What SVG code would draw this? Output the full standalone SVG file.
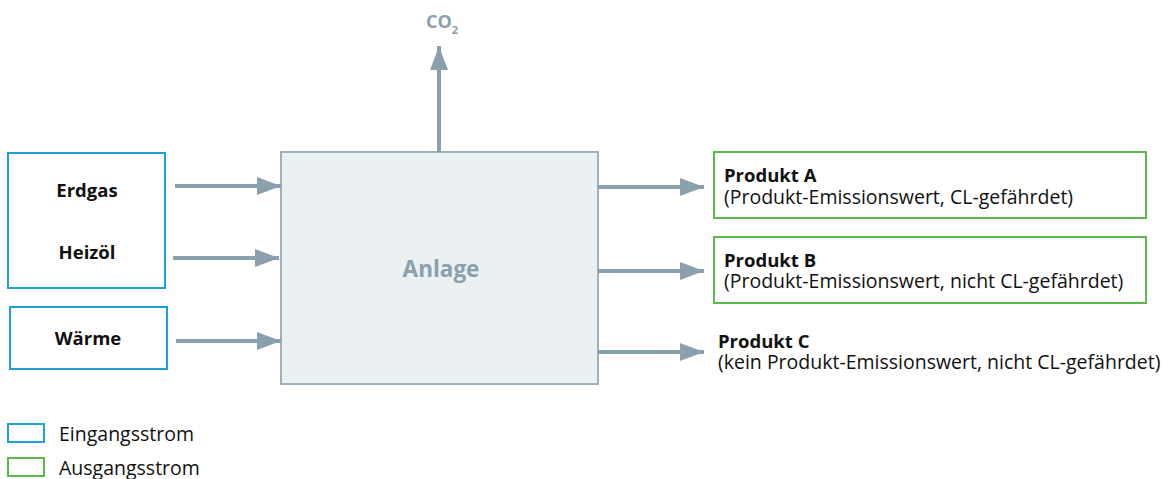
<svg xmlns="http://www.w3.org/2000/svg" width="1169" height="479" viewBox="0 0 1169 479">
<style>
.in{fill:#fff;stroke:#1ea0d9;stroke-width:2}
.out{fill:#fff;stroke:#5db94b;stroke-width:2}
.conn{stroke:#8aa0ac;stroke-width:4;fill:none}
.t{font-family:"Open Sans","Noto Sans",sans-serif;font-size:19.5px;fill:#111}
.b{font-weight:bold;font-size:18.5px}
.g{fill:#8aa0ac;font-weight:bold}
</style>
<defs>
<marker id="ah" markerUnits="userSpaceOnUse" markerWidth="24" markerHeight="18" refX="24" refY="9" orient="auto">
<path d="M0,0 L24,9 L0,18 Z" fill="#8aa0ac"/>
</marker>
</defs>
<rect width="1169" height="479" fill="#fff"/>
<g id="anlage">
<rect x="281" y="152" width="317" height="232" fill="#ebf0f3" stroke="#9eb0ba" stroke-width="2"/>
<text class="t g" x="441" y="277" text-anchor="middle" style="font-size:22.5px">Anlage</text>
</g>
<g id="erdgas-heizoel">
<rect class="in" x="8" y="153" width="157" height="135"/>
<text class="t b" x="87" y="197" text-anchor="middle">Erdgas</text>
<text class="t b" x="87" y="259" text-anchor="middle">Heizöl</text>
</g>
<g id="waerme">
<rect class="in" x="10" y="307" width="157" height="62"/>
<text class="t b" x="88" y="345" text-anchor="middle">Wärme</text>
</g>
<g id="produkt-a">
<rect class="out" x="714" y="152" width="432" height="66"/>
<text class="t b" x="724" y="182">Produkt A</text>
<text class="t" x="724" y="204">(Produkt-Emissionswert, CL-gefährdet)</text>
</g>
<g id="produkt-b">
<rect class="out" x="714" y="237" width="432" height="66"/>
<text class="t b" x="724" y="267">Produkt B</text>
<text class="t" x="724" y="288">(Produkt-Emissionswert, nicht CL-gefährdet)</text>
</g>
<g id="produkt-c">
<text class="t b" x="718" y="348">Produkt C</text>
<text class="t" x="718" y="369">(kein Produkt-Emissionswert, nicht CL-gefährdet)</text>
</g>
<g id="co2">
<text class="t g" x="426" y="28" style="font-size:18px">CO<tspan dy="6" style="font-size:11px">2</tspan></text>
</g>
<g id="connectors">
<line class="conn" x1="175" y1="186" x2="281" y2="186" marker-end="url(#ah)"/>
<line class="conn" x1="173" y1="258" x2="279" y2="258" marker-end="url(#ah)"/>
<line class="conn" x1="176" y1="341" x2="281" y2="341" marker-end="url(#ah)"/>
<line class="conn" x1="598" y1="187" x2="704" y2="187" marker-end="url(#ah)"/>
<line class="conn" x1="598" y1="271" x2="704" y2="271" marker-end="url(#ah)"/>
<line class="conn" x1="598" y1="352" x2="704" y2="352" marker-end="url(#ah)"/>
<line class="conn" x1="439" y1="152" x2="439" y2="46" marker-end="url(#ah)"/>
</g>
<g id="legend">
<rect class="in" x="8" y="424" width="36" height="18"/>
<text class="t" x="59" y="441">Eingangsstrom</text>
<rect class="out" x="8" y="458" width="36" height="18"/>
<text class="t" x="59" y="475">Ausgangsstrom</text>
</g>
</svg>
